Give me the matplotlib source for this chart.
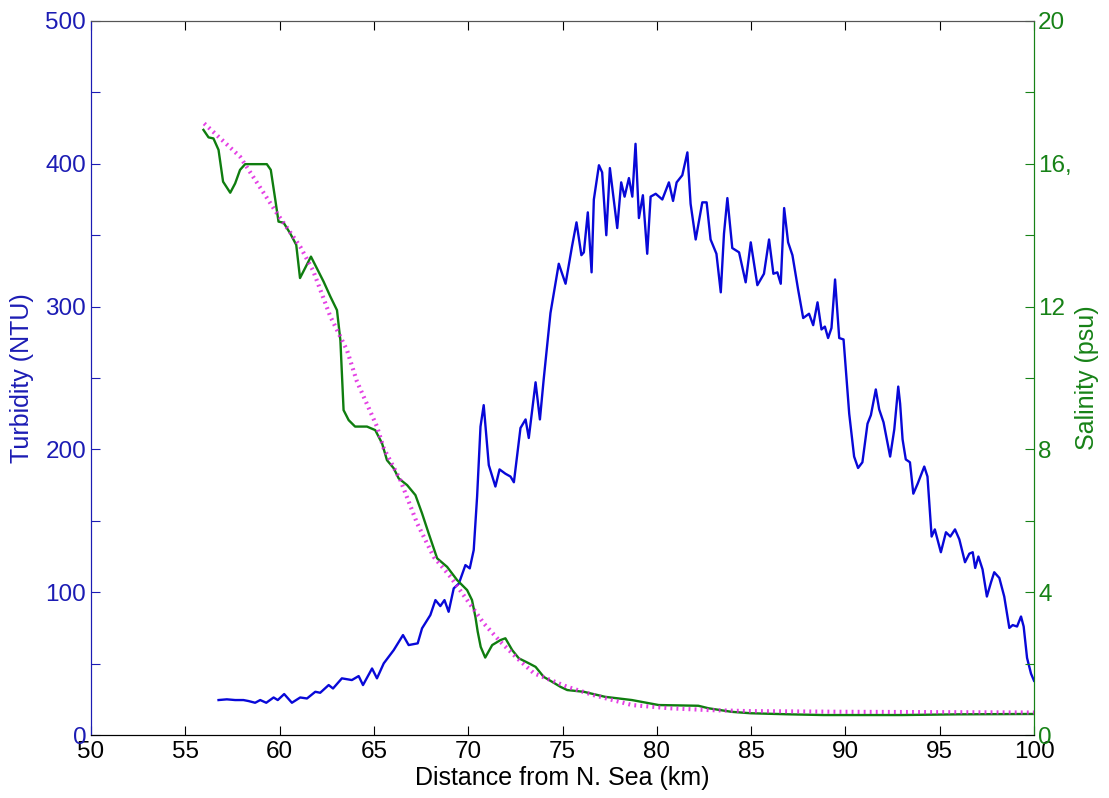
import matplotlib
matplotlib.use("Agg")
import matplotlib.pyplot as plt

plt.rcParams['font.family'] = ['Liberation Sans', 'DejaVu Sans']

# turbidity trace (km, NTU)
dist_turb = [56.76, 57.2, 57.64, 58.08, 58.35, 58.7, 58.97, 59.29, 59.68, 59.9,
             60.24, 60.65, 61.09, 61.45, 61.89, 62.15, 62.6, 62.83, 63.3, 63.83,
             64.19, 64.42, 64.9, 65.16, 65.52, 66.05, 66.54, 66.84, 67.32, 67.55,
             67.99, 68.26, 68.52, 68.74, 68.96, 69.23, 69.5, 69.85, 70.08, 70.29,
             70.47, 70.65, 70.82, 71.09, 71.44, 71.66, 71.97, 72.24, 72.42, 72.77,
             73.04, 73.21, 73.57, 73.8, 74.0, 74.2, 74.36, 74.8, 75.16, 75.5,
             75.74, 76.0, 76.13, 76.34, 76.54, 76.66, 76.93, 77.1, 77.32, 77.51,
             77.9, 78.11, 78.29, 78.52, 78.7, 78.87, 79.05, 79.26, 79.49, 79.67,
             79.94, 80.29, 80.64, 80.86, 81.05, 81.35, 81.62, 81.79, 82.06, 82.41,
             82.64, 82.85, 83.16, 83.39, 83.56, 83.74, 84.0, 84.36, 84.71, 84.98,
             85.33, 85.68, 85.95, 86.18, 86.39, 86.57, 86.75, 86.96, 87.19, 87.49,
             87.76, 88.07, 88.29, 88.52, 88.73, 88.91, 89.08, 89.26, 89.45, 89.67,
             89.9, 90.2, 90.46, 90.67, 90.9, 91.17, 91.35, 91.61, 91.79, 92.02,
             92.37, 92.59, 92.8, 92.9, 93.03, 93.2, 93.42, 93.6, 93.83, 94.18,
             94.35, 94.57, 94.74, 95.06, 95.33, 95.56, 95.81, 96.04, 96.34, 96.57,
             96.75, 96.88, 97.05, 97.27, 97.5, 97.72, 97.89, 98.16, 98.42, 98.69,
             98.87, 99.1, 99.31, 99.45, 99.63, 99.84, 100.0]
turbidity = [24.5, 25, 24.5, 24.5, 23.8, 22.6, 24.5, 22.6, 26.3, 24.5,
             28.7, 22.6, 26.3, 25.6, 30.3, 29.6, 35, 32.6, 39.7, 38.5,
             41.3, 35, 46.6, 39.7, 50.2, 59.5, 70, 63, 64.2, 74.7,
             84, 94.5, 90.3, 94.5, 86.3, 102.7, 106, 119, 116.7, 129.5,
             167, 216, 231, 189, 174, 186, 183, 181, 177, 215,
             221, 208, 247, 221, 249, 275, 295.5, 330, 316, 342,
             359, 336, 338, 366, 324, 375, 399, 394, 350, 397,
             355, 387, 377, 390, 377, 414, 362, 378, 337, 377,
             379, 375, 387, 374, 387, 392, 408, 372, 347, 373,
             373, 347, 337, 310, 351, 376, 341, 338, 317, 345,
             315, 323, 347, 323, 324, 316, 369, 345, 336, 312,
             292, 295, 287, 303, 284, 286, 278, 285, 319, 278,
             277, 225, 195, 187, 191, 218, 224, 242, 228, 219,
             195, 214, 244, 232, 207, 193, 191, 169, 176, 188,
             181, 139, 144, 128, 142, 139, 144, 137, 121, 127,
             128, 117, 125, 116, 97, 107, 114, 110, 97, 75,
             77, 76, 83, 76, 54, 43, 38]

# salinity trace (km, psu)
dist_sal = [55.96, 56.23, 56.49, 56.76, 57.0, 57.38, 57.64, 57.9, 58.17, 59.32,
            59.53, 59.77, 59.94, 60.21, 60.56, 60.88, 61.08, 61.66, 62.33, 62.69,
            63.04, 63.22, 63.39, 63.66, 64.0, 64.63, 65.07, 65.43, 65.69, 66.05,
            66.31, 66.76, 67.2, 67.55, 67.9, 68.35, 68.88, 69.41, 69.94, 70.2,
            70.38, 70.5, 70.66, 70.9, 71.27, 71.71, 71.97, 72.33, 72.68, 73.21,
            73.57, 74.0, 74.45, 74.89, 75.25, 76.14, 77.26, 78.68, 80.1, 82.2,
            82.74, 83.96, 84.98, 87.01, 88.84, 93.0, 96.0, 100.0]
salinity = [16.95, 16.74, 16.71, 16.39, 15.5, 15.19, 15.45, 15.83, 15.99, 15.99,
            15.83, 14.99, 14.38, 14.35, 14.05, 13.73, 12.8, 13.4, 12.7, 12.28,
            11.9, 11.06, 9.1, 8.82, 8.64, 8.64, 8.54, 8.17, 7.7, 7.47,
            7.19, 7.0, 6.72, 6.21, 5.65, 4.95, 4.71, 4.34, 4.06, 3.78,
            3.31, 2.9, 2.47, 2.17, 2.52, 2.66, 2.71, 2.38, 2.15, 2.01,
            1.91, 1.63, 1.49, 1.35, 1.26, 1.21, 1.07, 0.98, 0.84, 0.82,
            0.75, 0.65, 0.61, 0.58, 0.56, 0.56, 0.58, 0.59]

# fitted salinity curve (dotted)
dist_fit = [56.0, 57.9, 59.86, 61.09, 61.78, 62.69, 63.57, 64.1, 65.16, 65.52,
            66.4, 67.29, 68.17, 69.06, 69.94, 70.82, 71.71, 72.6, 73.48, 75.25,
            76.64, 78.68, 80.71, 82.75, 84.77, 90.0, 100.0]
sal_fit = [17.13, 16.2, 14.61, 13.68, 13.0, 11.72, 10.78, 9.9, 8.64, 8.03,
           7.14, 5.93, 4.99, 4.43, 3.78, 3.13, 2.61, 2.15, 1.73, 1.35,
           1.12, 0.84, 0.75, 0.70, 0.67, 0.65, 0.63]

turb_ticks = list(range(0, 501, 50))
turb_labels = [str(t) if t % 100 == 0 else '' for t in turb_ticks]
sal_ticks = list(range(0, 21, 2))
sal_labels = ['0', '', '4', '', '8', '', '12', '', '16,', '', '20']
dist_ticks = list(range(50, 101, 5))

blue_ax = '#1c1cb4'
green_ax = '#178217'

fig = plt.figure(figsize=(11.09, 7.98), dpi=100)
ax1 = fig.add_axes([0.0821, 0.0789, 0.8503, 0.8948])
ax2 = ax1.twinx()

ax1.plot(dist_turb, turbidity, color='#0808d8', lw=1.7)
ax2.plot(dist_sal, salinity, color='#0f7d0f', lw=1.7)
# MATLAB-style ':' line, dots drawn as short thick dashes
ax2.plot(dist_fit, sal_fit, color='#e020e0', lw=3.0, linestyle=(0, (0.45, 1.0)),
         dash_capstyle='butt', alpha=0.85)

ax1.set_xlim(50, 100)
ax1.set_ylim(0, 500)
ax2.set_ylim(0, 20)

ax1.set_xticks(dist_ticks)
ax1.set_yticks(turb_ticks)
ax1.set_yticklabels(turb_labels)
ax2.set_yticks(sal_ticks)
ax2.set_yticklabels(sal_labels)

ax1.tick_params(axis='x', direction='in', length=6.5, width=0.8, top=True,
                labelsize=17.5, pad=4, colors='black')
ax1.tick_params(axis='y', direction='in', length=6.5, width=0.8,
                labelsize=17.5, pad=3.5, colors=blue_ax)
ax2.tick_params(axis='y', direction='in', length=6.5, width=0.8,
                labelsize=17.5, pad=3, colors=green_ax)

for ax in (ax1, ax2):
    ax.spines['left'].set_color(blue_ax)
    ax.spines['right'].set_color(green_ax)
    ax.spines['top'].set_color('#555555')
    ax.spines['bottom'].set_color('black')

ax1.set_xlabel('Distance from N. Sea (km)', fontsize=18)
ax1.set_ylabel('Turbidity (NTU)', fontsize=18, color=blue_ax)
ax2.set_ylabel('Salinity (psu)', fontsize=18, color=green_ax)
ax1.xaxis.set_label_coords(0.5, -0.044)
ax1.yaxis.set_label_coords(-0.060, 0.5)
ax2.yaxis.set_label_coords(1.0435, 0.5)

fig.savefig('out.png', dpi=100)
